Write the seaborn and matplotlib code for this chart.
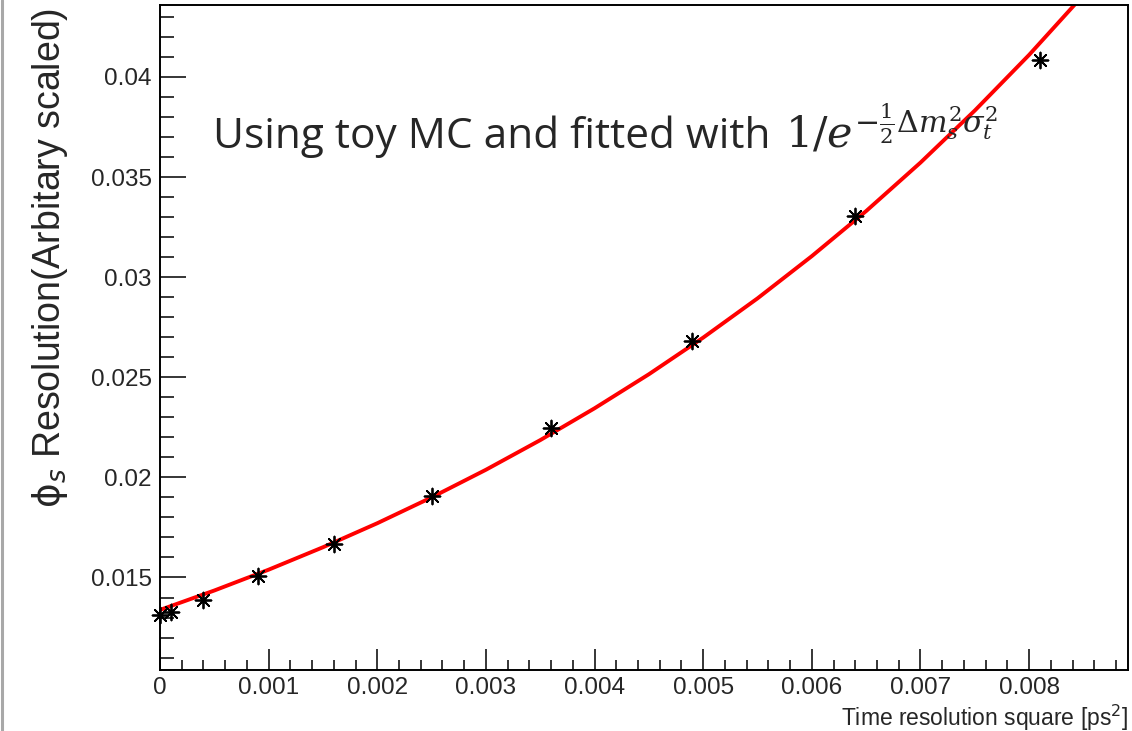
import matplotlib
matplotlib.use("Agg")
import matplotlib.pyplot as plt
import seaborn as sns
import pandas as pd
from matplotlib.ticker import MultipleLocator
from matplotlib.lines import Line2D

# toy MC points: sigma_t^2 [ps^2] vs phi_s resolution
sigma2 = [0.0, 0.0001, 0.0004, 0.0009, 0.0016, 0.0025, 0.0036, 0.0049, 0.0064, 0.0081]
resol = [0.01315, 0.01326, 0.0139, 0.01507, 0.01665, 0.01907, 0.02245, 0.02679, 0.03306, 0.04082]

# fitted curve
fit_x = [0.0, 0.0005, 0.001, 0.0015, 0.002, 0.0025, 0.003, 0.0035, 0.004,
         0.0045, 0.005, 0.0055, 0.006, 0.0065, 0.007, 0.0075, 0.008, 0.0085]
fit_y = [0.01338, 0.01435, 0.01539, 0.01651, 0.01771, 0.01900, 0.02038, 0.02186, 0.02345,
         0.02515, 0.02698, 0.02894, 0.03105, 0.03330, 0.03572, 0.03832, 0.04110, 0.04409]

points = pd.DataFrame({"x": sigma2, "y": resol})
curve = pd.DataFrame({"x": fit_x, "y": fit_y})

sns.set_style("white")
plt.rcParams['font.family'] = ['Liberation Sans', 'DejaVu Sans']

fig = plt.figure(figsize=(11.32, 7.31), dpi=100)
ax = fig.add_axes([160 / 1132, 1 - 670 / 731, 968 / 1132, 665 / 731])

sns.lineplot(data=curve, x="x", y="y", ax=ax, color="#ff0000", linewidth=2.8,
             estimator=None, sort=False, zorder=2)
sns.scatterplot(data=points, x="x", y="y", ax=ax, marker=(8, 2, 0), s=130,
                color="black", linewidth=1.3, zorder=3, clip_on=False)

ax.set_xlim(0, 0.00891)
ax.set_ylim(0.01038, 0.04359)
ax.set_xlabel("")
ax.set_ylabel("")

ax.xaxis.set_major_locator(MultipleLocator(0.001))
ax.xaxis.set_minor_locator(MultipleLocator(0.0002))
ax.yaxis.set_major_locator(MultipleLocator(0.005))
ax.yaxis.set_minor_locator(MultipleLocator(0.001))
ax.set_xticks([0, 0.001, 0.002, 0.003, 0.004, 0.005, 0.006, 0.007, 0.008])
ax.set_xticklabels(["0", "0.001", "0.002", "0.003", "0.004", "0.005", "0.006", "0.007", "0.008"])
ax.set_yticks([0.015, 0.02, 0.025, 0.03, 0.035, 0.04])
ax.set_yticklabels(["0.015", "0.02", "0.025", "0.03", "0.035", "0.04"])

ax.tick_params(axis="both", which="both", direction="in", labelsize=17.5, color="black",
               bottom=True, left=True, top=False, right=False)
ax.tick_params(axis="y", which="major", length=19, width=1.1, pad=6)
ax.tick_params(axis="y", which="minor", length=10, width=1.1)
ax.tick_params(axis="x", which="major", length=15, width=1.1, pad=5)
ax.tick_params(axis="x", which="minor", length=7.5, width=1.1)

for s in ax.spines.values():
    s.set_color("black")
    s.set_linewidth(1.4)

# axis titles, ROOT style (aligned to the axis end)
fig.text(1128 / 1132, 1 - 726 / 731, "Time resolution square [ps$^{2}$]",
         ha="right", va="baseline", fontsize=16.5)
fig.text(50 / 1132, 1 - 8 / 731, r"$\mathrm{ϕ}_{s}$ Resolution(Arbitary scaled)",
         rotation=90, ha="center", va="top", fontsize=27,
         math_fontfamily="dejavusans")

# annotation: plain part and formula part
ax.text(213 / 1132, 1 - 148 / 731, "Using toy MC and fitted with",
        transform=fig.transFigure, ha="left", va="baseline", fontsize=30.5,
        family=["Open Sans", "DejaVu Sans"])
ax.text(785 / 1132, 1 - 148 / 731,
        r"$1/e^{-\frac{1}{2}\Delta m_s^2\sigma_t^2}$",
        transform=fig.transFigure, ha="left", va="baseline", fontsize=31,
        math_fontfamily="dejavuserif")

fig.add_artist(Line2D([1.5 / 1132, 1.5 / 1132], [0, 1], color="#a8a8a8", linewidth=2.2))

fig.savefig("out.png", dpi=100)
